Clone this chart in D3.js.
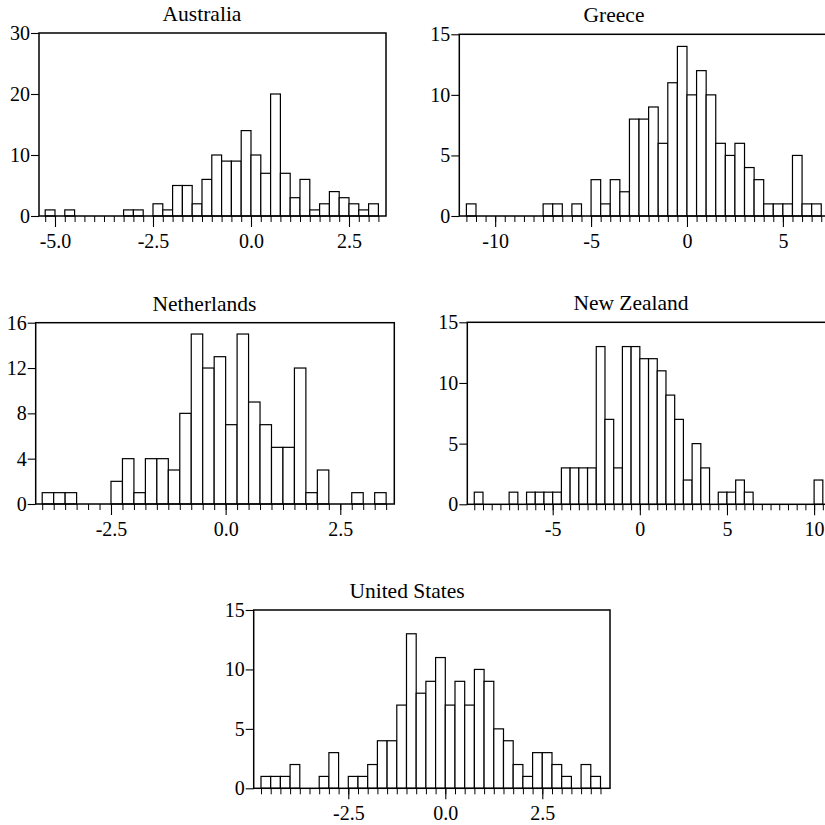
<!DOCTYPE html>
<html>
<head>
<meta charset="utf-8">
<script src="https://cdn.jsdelivr.net/npm/d3@7"></script>
<style>
  body { margin: 0; background: #fff; }
  text { font-family: "Liberation Serif", "Times New Roman", serif; fill: #000; }
</style>
</head>
<body>
<svg id="chart" width="825" height="825"></svg>
<script>
// Histogram data: one count per bin, bins start at binStart and have width binWidth
const countries = ["Australia", "Greece", "Netherlands", "New Zealand", "United States"];
const binStart = [-5.25, -11.5, -4.0, -9.5, -4.75];
const binWidth = [0.25, 0.5, 0.25, 0.5, 0.25];

const australiaCounts = [1,0,1,0,0,0,0,0,1,1,0,2,1,5,5,2,6,10,9,9,14,10,7,20,7,3,6,1,2,4,3,2,1,2];
const greeceCounts = [1,0,0,0,0,0,0,0,1,1,0,1,0,3,1,3,2,8,8,9,6,11,14,10,12,10,6,5,6,4,3,1,1,1,5,1,1];
const netherlandsCounts = [1,1,1,0,0,0,2,4,1,4,4,3,8,15,12,13,7,15,9,7,5,5,12,1,3,0,0,1,0,1];
const newZealandCounts = [1,0,0,0,1,0,1,1,1,1,3,3,3,3,13,7,3,13,13,12,12,11,9,7,2,5,3,0,1,1,2,1,0,0,0,0,0,0,0,2];
const unitedStatesCounts = [1,1,1,2,0,0,1,3,0,1,1,2,4,4,7,13,8,9,11,7,9,7,10,9,5,4,2,1,3,3,2,1,0,2,1];
const countsByCountry = [australiaCounts, greeceCounts, netherlandsCounts, newZealandCounts, unitedStatesCounts];

// Axis ticks
const xMajorTicks = [[-5, -2.5, 0, 2.5], [-10, -5, 0, 5], [-2.5, 0, 2.5], [-5, 0, 5, 10], [-2.5, 0, 2.5]];
const xTickFormats = [".1f", "d", ".1f", "d", ".1f"];
const yTicks = [[0, 10, 20, 30], [0, 5, 10, 15], [0, 4, 8, 12, 16], [0, 5, 10, 15], [0, 5, 10, 15]];

// Panel frames on the page, the x range each one shows, and where its title sits
const frames = [
  { left: 39,    right: 386,   top: 33,    bottom: 216,   xDomain: [-5.408, 3.444], titleX: 202 },
  { left: 459.3, right: 827,   top: 34.3,  bottom: 216,   xDomain: [-11.87, 7.30],  titleX: 614 },
  { left: 35.7,  right: 394.3, top: 322.7, bottom: 504,   xDomain: [-4.142, 3.678], titleX: 204.5 },
  { left: 467.3, right: 827,   top: 322.3, bottom: 504.3, xDomain: [-9.90, 10.74],  titleX: 631 },
  { left: 253.7, right: 610,   top: 610,   bottom: 788.3, xDomain: [-4.938, 4.245], titleX: 407 }
];

// plain hyphen for negative numbers
const locale = d3.formatLocale({ decimal: ".", thousands: ",", grouping: [3], currency: ["", ""], minus: "-" });

const svg = d3.select("#chart");

countries.forEach((name, i) => {
  const f = frames[i];
  const counts = countsByCountry[i];
  const w = binWidth[i];
  const x = d3.scaleLinear().domain(f.xDomain).range([f.left, f.right]);
  const y = d3.scaleLinear().domain([0, d3.max(yTicks[i])]).range([f.bottom, f.top]);

  const bins = counts.map((n, j) => ({
    x0: binStart[i] + j * w,
    x1: binStart[i] + (j + 1) * w,
    n
  }));
  const edges = d3.range(counts.length + 1).map(j => binStart[i] + j * w);

  const g = svg.append("g").attr("class", "panel");

  // bars
  g.append("g").selectAll("rect")
    .data(bins.filter(b => b.n > 0))
    .join("rect")
    .attr("x", b => x(b.x0))
    .attr("width", b => x(b.x1) - x(b.x0))
    .attr("y", b => y(b.n))
    .attr("height", b => y(0) - y(b.n))
    .attr("fill", "#fff")
    .attr("stroke", "#000")
    .attr("stroke-width", 1.2);

  // plot frame
  g.append("rect")
    .attr("x", f.left).attr("y", f.top)
    .attr("width", f.right - f.left).attr("height", f.bottom - f.top)
    .attr("fill", "none").attr("stroke", "#000").attr("stroke-width", 1.5);

  // minor x ticks at every bin edge
  const minor = g.append("g")
    .attr("transform", `translate(0,${f.bottom})`)
    .call(d3.axisBottom(x).tickValues(edges).tickSize(6).tickFormat(""));
  minor.select(".domain").remove();
  minor.selectAll("line").attr("stroke", "#000").attr("stroke-width", 1);

  // major x ticks with labels
  const major = g.append("g")
    .attr("transform", `translate(0,${f.bottom})`)
    .call(d3.axisBottom(x).tickValues(xMajorTicks[i]).tickSize(11).tickFormat(locale.format(xTickFormats[i])));
  major.select(".domain").remove();
  major.selectAll("line").attr("stroke", "#000").attr("stroke-width", 1.1);
  major.selectAll("text")
    .attr("y", 32).attr("dy", null)
    .style("font-size", "20px");

  // y axis
  const ya = g.append("g")
    .attr("transform", `translate(${f.left},0)`)
    .call(d3.axisLeft(y).tickValues(yTicks[i]).tickSize(8).tickPadding(1).tickFormat(locale.format("d")));
  ya.select(".domain").remove();
  ya.selectAll("line").attr("stroke", "#000").attr("stroke-width", 1.1);
  ya.selectAll("text").style("font-size", "20px");

  // title
  g.append("text")
    .attr("x", f.titleX)
    .attr("y", f.top - 12)
    .attr("text-anchor", "middle")
    .style("font-size", "21.5px")
    .text(name);
});
</script>
</body>
</html>
